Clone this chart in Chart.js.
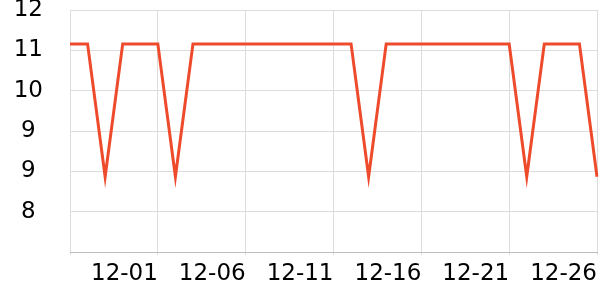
<!DOCTYPE html>
<html>
<head>
<meta charset="utf-8">
<script src="https://cdn.jsdelivr.net/npm/chart.js@4"></script>
<style>
    html, body { margin: 0; padding: 0; background: #fff; }
    #wrap { width: 600px; height: 300px; }
</style>
</head>
<body>
<div id="wrap"><canvas id="myChart"></canvas></div>
<script>
// days 11-26 .. 12-26
const dates = [
    '11-26', '11-27', '11-28', '11-29', '11-30', '12-01', '12-02', '12-03', '12-04', '12-05',
    '12-06', '12-07', '12-08', '12-09', '12-10', '12-11', '12-12', '12-13', '12-14', '12-15',
    '12-16', '12-17', '12-18', '12-19', '12-20', '12-21', '12-22', '12-23', '12-24', '12-25',
    '12-26'
];
const values = [
    11.37, 11.37, 8.9, 11.37, 11.37, 11.37, 8.9, 11.37, 11.37, 11.37,
    11.37, 11.37, 11.37, 11.37, 11.37, 11.37, 11.37, 8.9, 11.37, 11.37,
    11.37, 11.37, 11.37, 11.37, 11.37, 11.37, 8.9, 11.37, 11.37, 11.37,
    8.9
];
const yMin = 7.5;
const yMax = 12;
const yStep = 0.75;

const ctx = document.getElementById("myChart").getContext("2d");

const config = {
    type: "line",
    data: {
        labels: dates,
        datasets: [{
            data: values,
            borderColor: "#ee4a2c",
            borderWidth: 3,
            pointRadius: 0,
            tension: 0,
            fill: false,
        }],
    },
    options: {
        responsive: true,
        maintainAspectRatio: false,
        animation: false,
        layout: {
            padding: { top: 10, right: 3, left: 0, bottom: 0 }
        },
        plugins: {
            legend: { display: false },
            tooltip: { enabled: false },
        },
        scales: {
            x: {
                grid: {
                    color: '#dcdcdc',
                    tickLength: 3,
                },
                border: { color: '#bdbdbd' },
                ticks: {
                    autoSkip: false,
                    maxRotation: 0,
                    align: 'end',
                    padding: 5,
                    color: '#000',
                    font: { family: 'DejaVu Sans', size: 23 },
                    // every 5th day; first one keeps its grid line but no text
                    callback: (v, i) => {
                        if (i % 5 !== 0) return null
                        return i === 0 ? '' : dates[i]
                    },
                },
                afterFit: (scale) => {
                    scale.height = 48;
                    scale.paddingLeft = 0;
                    scale.paddingRight = 0;
                },
            },
            y: {
                min: yMin,
                max: yMax,
                grid: {
                    color: '#dcdcdc',
                    drawTicks: false,
                },
                border: { display: false },
                ticks: {
                    stepSize: yStep,
                    crossAlign: 'center',
                    padding: 27,
                    color: '#000',
                    font: { family: 'DejaVu Sans', size: 23 },
                    callback: (v) => v === yMin ? '' : Math.floor(v),
                },
                afterFit: (scale) => {
                    scale.width = 70;
                    scale.paddingTop = 0;
                    scale.paddingBottom = 0;
                },
            },
        },
    },
};

const myChart = new Chart(ctx, config);
</script>
</body>
</html>
